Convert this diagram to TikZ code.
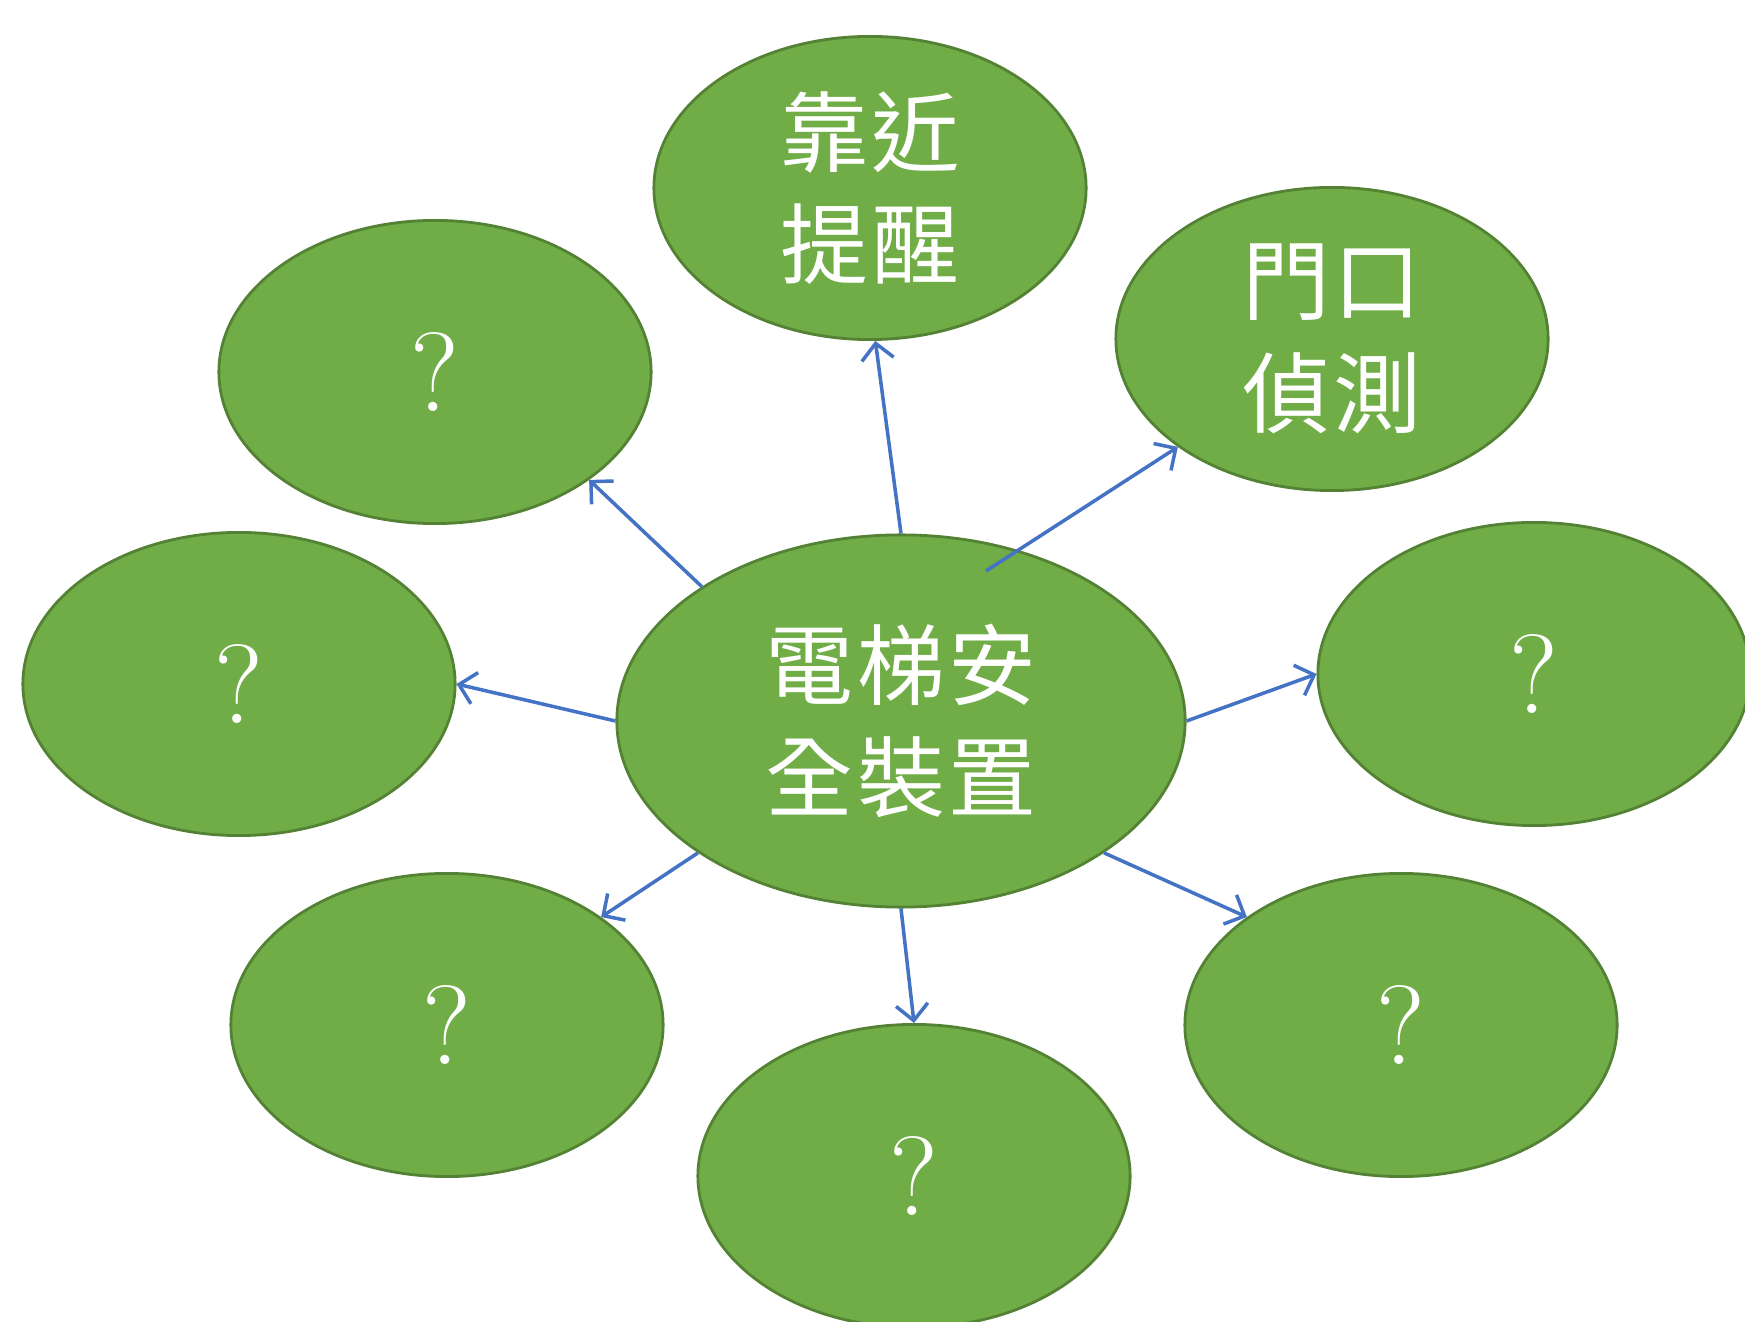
\documentclass[tikz,border=0pt]{standalone}
\usepackage{fontspec}
\newfontfamily\cjk[LetterSpace=4]{Noto Sans CJK TC}
\usetikzlibrary{positioning,shapes.geometric,arrows.meta}
\definecolor{leaf}{HTML}{70AD47}
\definecolor{leafline}{HTML}{548235}
\definecolor{arrowblue}{HTML}{4472C4}

\begin{document}
\begin{tikzpicture}[x=0.01cm, y=-0.01cm,
    bubble/.style={ellipse, fill=leaf, draw=leafline, line width=0.8pt,
        minimum width=4.32cm, minimum height=3.03cm, inner sep=0pt,
        text=white, align=center},
    hub/.style={bubble, minimum width=5.68cm, minimum height=3.72cm},
    cjktext/.style={font=\cjk\fontsize{25}{32}\selectfont},
    qtext/.style={font=\fontsize{32}{36}\selectfont},
    arr/.style={draw=arrowblue, line width=1pt,
        -{Straight Barb[length=1.6mm, width=3.2mm]}}]
    \useasboundingbox (0,0) rectangle (1745,1322);
    \clip (0,0) rectangle (1745,1322);

    % Nodes
    \node[bubble, cjktext] (near) at (870,188) {靠近\\提醒};
    \node[bubble, qtext] (ul) at (435,372) {?};
    \node[bubble, cjktext] (door) at (1332,339) {門口\\偵測};
    \node[bubble, qtext] (left) at (239,684) {?};
    \node[bubble, qtext] (right) at (1534,674) {?};
    \node[bubble, qtext] (ll) at (447,1025) {?};
    \node[bubble, qtext] (bottom) at (914,1176) {?};
    \node[bubble, qtext] (lr) at (1401,1025) {?};
    \node[hub, cjktext] (hub) at (901,721) {電梯安\\全裝置};
    \coordinate (hubin) at (986,571);

    % Arrows
    \draw[arr] (hub.90) -- (near.272);
    \draw[arr] (hub.146) -- (ul.-35);
    \draw[arr] (hubin) -- (door.215);
    \draw[arr] (hub.west) -- (left.east);
    \draw[arr] (hub.east) -- (right.west);
    \draw[arr] (hub.213) -- (ll.35);
    \draw[arr] (hub.south) -- (bottom.north);
    \draw[arr] (hub.-33) -- (lr.145);
\end{tikzpicture}
\end{document}
